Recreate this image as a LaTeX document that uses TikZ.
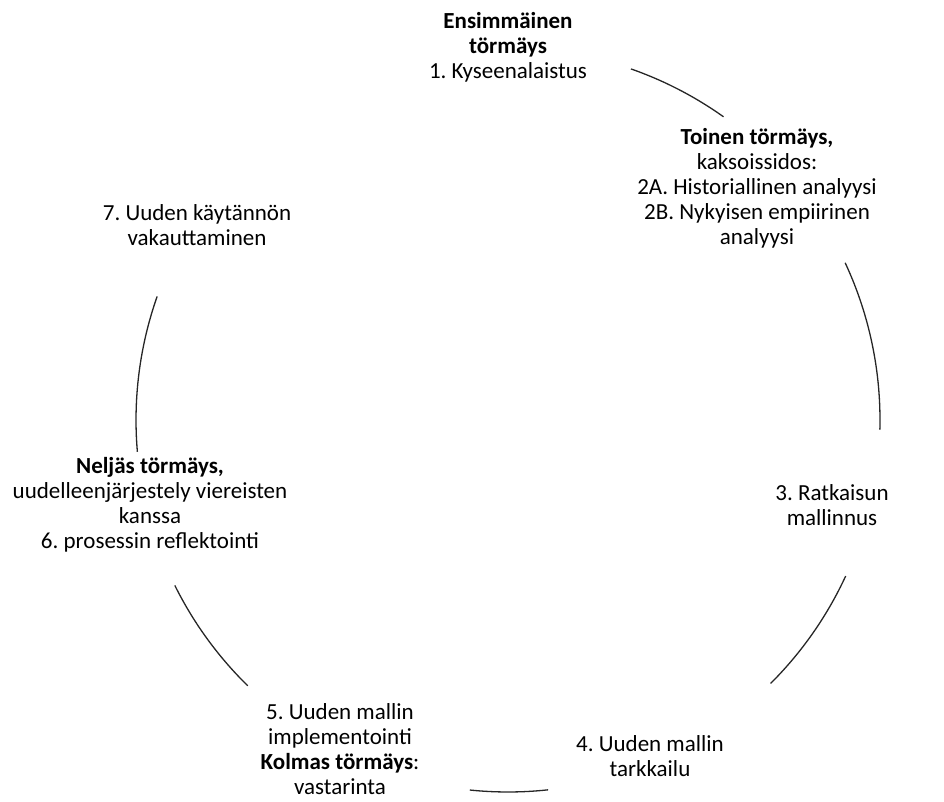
\documentclass[tikz,border=0pt]{standalone}
\usepackage{fontspec}
\setmainfont{Carlito}
\usepackage{tikz}
\usetikzlibrary{positioning}
\frenchspacing

\tikzset{
  stage/.style={align=center, inner sep=0pt, font=\fontsize{23}{25}\selectfont},
  ring/.style={line width=1.3pt, black!85}
}

\begin{document}
\begin{tikzpicture}[x=1pt, y=1pt]
  \useasboundingbox (0, 0) rectangle (944, 801);
  \coordinate (hub) at (508, 381);

  \node[stage] (s1) at (508, 754) {\textbf{Ensimmäinen}\\\textbf{törmäys}\\1. Kyseenalaistus};
  \node[stage] (s2) at (757, 613) {\textbf{Toinen törmäys,}\\kaksoissidos:\\2A. Historiallinen analyysi\\2B. Nykyisen empiirinen\\analyysi};
  \node[stage] (s3) at (832, 296) {3. Ratkaisun\\mallinnus};
  \node[stage] (s4) at (650, 45) {4. Uuden mallin\\tarkkailu};
  \node[stage] (s5) at (340, 52) {5. Uuden mallin\\implementointi\\\textbf{Kolmas törmäys}:\\vastarinta};
  \node[stage] (s6) at (150, 296) {\textbf{Neljäs törmäys,}\\uudelleenjärjestely viereisten\\kanssa\\6. prosessin reflektointi};
  \node[stage] (s7) at (197, 576) {7. Uuden käytännön\\vakauttaminen};

  \draw[ring] ([shift={(70.7:372)}]hub) arc[start angle=70.7, end angle=54.6, radius=372];
  \draw[ring] ([shift={(25:372)}]hub) arc[start angle=25, end angle=-1.5, radius=372];
  \draw[ring] ([shift={(-24.8:372)}]hub) arc[start angle=-24.8, end angle=-45.1, radius=372];
  \draw[ring] ([shift={(-83.8:372)}]hub) arc[start angle=-83.8, end angle=-95.9, radius=372];
  \draw[ring] ([shift={(225.6:372)}]hub) arc[start angle=225.6, end angle=206.4, radius=372];
  \draw[ring] ([shift={(184.9:372)}]hub) arc[start angle=184.9, end angle=160.6, radius=372];
\end{tikzpicture}
\end{document}
